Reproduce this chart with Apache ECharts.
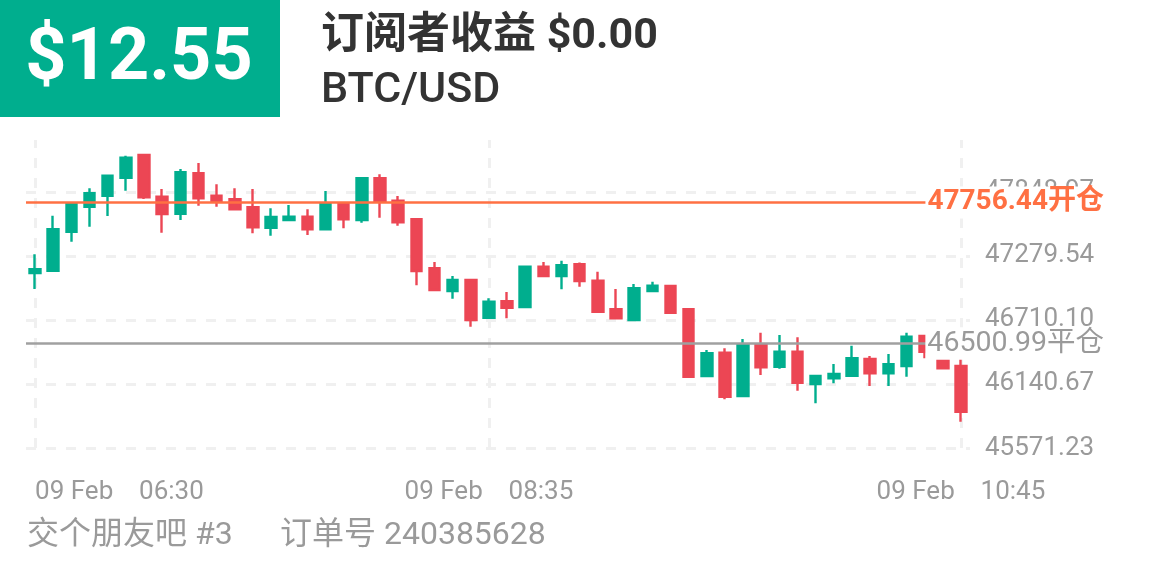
<!DOCTYPE html>
<html>
<head>
<meta charset="utf-8">
<script src="https://cdn.jsdelivr.net/npm/echarts@6/dist/echarts.min.js"></script>
<style>
html,body{margin:0;padding:0;background:#fff;}
#chart{width:1161px;height:580px;}
</style>
</head>
<body>
<div id="chart"></div>
<script>
// ---- data ----
const times = ['06:30','06:35','06:40','06:45','06:50','06:55','07:00','07:05','07:10','07:15',
  '07:20','07:25','07:30','07:35','07:40','07:45','07:50','07:55','08:00','08:05',
  '08:10','08:15','08:20','08:25','08:30','08:35','08:40','08:45','08:50','08:55',
  '09:00','09:05','09:10','09:15','09:20','09:25','09:30','09:35','09:40','09:45',
  '09:50','09:55','10:00','10:05','10:10','10:15','10:20','10:25','10:30','10:35',
  '10:40','10:45'];
const opens  = [47128.3,47148.8,47495.8,47718.2,47816.1,47976.2,48178.2,47807.2,47655.9,48015.3,
  47816.1,47784.0,47712.8,47531.3,47599.8,47629.2,47517.1,47748.4,47599.8,47970.9,
  47771.6,47606.0,47170.1,46968.1,47066.0,46730.6,46876.5,46825.8,47184.3,47101.6,
  47205.7,47060.0,46805.3,46710.1,46968.1,47012.6,46805.3,46211.8,46419.1,46033.8,
  46487.6,46294.6,46428.0,46140.7,46191.2,46214.5,46363.1,46235.8,46300.8,46567.7,
  46389.8,46300.8];
const closes = [47161.0,47517.1,47739.5,47837.4,47994.0,48154.1,47801.8,47653.2,48024.2,47792.9,
  47762.7,47695.0,47534.9,47626.5,47629.2,47517.1,47748.4,47606.1,47970.9,47762.7,
  47579.4,47146.1,46977.0,47066.0,46710.1,46873.0,46819.6,47184.3,47101.6,47196.8,
  47057.1,46784.0,46725.0,46992.2,47015.3,46775.1,46205.6,46413.8,46027.6,46487.6,
  46289.2,46428.0,46152.3,46211.8,46229.7,46369.3,46235.8,46315.9,46561.5,46428.0,
  46280.3,45894.3];
const lows   = [46985.9,47140.0,47406.8,47540.2,47635.4,47860.5,47786.7,47486.8,47599.8,47727.0,
  47718.2,47690.0,47481.3,47460.0,47595.0,47466.4,47512.0,47526.0,47575.8,47620.3,
  47549.1,47018.8,46968.1,46899.6,46650.5,46725.0,46725.0,46820.0,47098.0,46983.0,
  47006.4,46780.0,46720.0,46705.0,46965.0,46763.5,46200.0,46208.0,46004.5,46030.0,
  46220.8,46276.8,46081.0,45968.9,46146.9,46210.0,46122.9,46122.9,46205.6,46369.3,
  46278.0,45805.0];
const highs  = [47294.7,47638.1,47748.4,47881.9,48000.0,48171.9,48184.4,47875.7,48053.6,48107.0,
  47917.5,47881.9,47875.7,47704.0,47733.3,47695.0,47857.9,47752.0,47975.0,48006.5,
  47813.4,47610.0,47226.2,47101.6,47070.0,46903.2,46959.2,47190.0,47226.2,47237.7,
  47220.9,47139.8,46985.9,47030.5,47050.9,47016.0,46814.2,46443.2,46458.3,46541.0,
  46597.0,46576.6,46556.0,46215.0,46318.6,46481.4,46389.8,46407.6,46597.0,46571.0,
  46392.0,46378.2];
const yTicks = [45571.23, 46140.67, 46710.10, 47279.54, 47848.97];
const yMin = 45571.23;
const yMax = 48311.6;
const xLabelTimes = ['06:30', '08:35', '10:45'];
const datePrefix = '09 Feb    ';
const openPrice = 47756.44;
const closePrice = 46500.99;
const profitText = '$12.55';
const titleText = '订阅者收益 $0.00';
const symbolText = 'BTC/USD';
const footerLeft = '交个朋友吧 #3';
const footerRight = '订单号 240385628';

// ---- chart ----
const UP = '#00ae8e', DOWN = '#ec4654', ORANGE = '#ff7043', GRAY = '#a0a0a0', LABEL = '#9a9a9a';
const FONT = 'Roboto, "Noto Sans CJK SC", sans-serif';
const candleData = times.map((t, i) => [opens[i], closes[i], lows[i], highs[i]]);
const labelIdx = xLabelTimes.map(t => times.indexOf(t));

const chart = echarts.init(document.getElementById('chart'), null, {renderer: 'canvas'});
chart.setOption({
  animation: false,
  backgroundColor: '#fff',
  grid: {left: 26, right: 191, top: 140, bottom: 132},
  xAxis: {
    type: 'category',
    data: times,
    boundaryGap: true,
    axisLine: {show: false},
    axisTick: {show: false},
    splitLine: {show: false},
    axisLabel: {
      interval: (idx) => labelIdx.indexOf(idx) >= 0,
      formatter: (v) => datePrefix + v,
      color: LABEL,
      fontSize: 26,
      fontFamily: FONT,
      margin: 31,
      alignMinLabel: 'left'
    }
  },
  yAxis: {
    type: 'value',
    position: 'right',
    min: yMin,
    max: yMax,
    axisLine: {show: false},
    axisTick: {show: false, customValues: yTicks},
    axisLabel: {
      customValues: yTicks,
      formatter: (v) => v.toFixed(2),
      color: LABEL,
      fontSize: 26,
      fontFamily: FONT,
      margin: 15
    },
    splitLine: {show: true, lineStyle: {color: '#f0f0f0', width: 3, type: [10, 10]}}
  },
  series: [
    {
      type: 'line',
      data: [],
      z: 1,
      markLine: {
        silent: true,
        z: 1,
        symbol: ['none', 'none'],
        label: {show: false},
        lineStyle: {color: '#f0f0f0', width: 3, type: [10, 10]},
        data: xLabelTimes.map(t => ({xAxis: t}))
      }
    },
    {
      type: 'candlestick',
      data: candleData,
      barWidth: 11,
      z: 2,
      itemStyle: {
        color: UP, color0: DOWN, borderColor: UP, borderColor0: DOWN, borderWidth: 2.4
      },
      markLine: {
        silent: true,
        z: 5,
        symbol: ['none', 'none'],
        label: {
          position: 'end',
          distance: 0,
          align: 'right',
          offset: [134, 0],
          fontSize: 28,
          fontFamily: FONT,
          backgroundColor: '#fff',
          padding: [2, 0, 2, 2],
          formatter: (p) => p.value.toFixed(2) + p.name
        },
        data: [
          {name: '开仓', yAxis: openPrice,
           lineStyle: {color: ORANGE, width: 2.5, type: 'solid'},
           label: {color: ORANGE, fontWeight: 'bold'}},
          {name: '平仓', yAxis: closePrice,
           lineStyle: {color: GRAY, width: 2.5, type: 'solid'},
           label: {color: LABEL, fontWeight: 'normal', fontSize: 28.5}}
        ]
      }
    }
  ],
  graphic: [
    {type: 'rect', shape: {x: 0, y: 0, width: 280, height: 117}, style: {fill: UP}, z: 10},
    {type: 'text', z: 11, style: {text: profitText, x: 139, y: 61, align: 'center', verticalAlign: 'middle',
      fill: '#fff', fontSize: 72, fontWeight: 'bold', fontFamily: FONT}},
    {type: 'text', z: 11, style: {text: titleText, x: 321, y: 37, align: 'left', verticalAlign: 'middle',
      fill: '#333', fontSize: 43, fontWeight: 'bold', fontFamily: FONT}},
    {type: 'text', z: 11, style: {text: symbolText, x: 321, y: 91, align: 'left', verticalAlign: 'middle',
      fill: '#333', fontSize: 43, fontWeight: 500, fontFamily: FONT}},
    {type: 'text', z: 11, style: {text: footerLeft, x: 27, y: 536, align: 'left', verticalAlign: 'middle',
      fill: LABEL, fontSize: 32, fontFamily: FONT}},
    {type: 'text', z: 11, style: {text: footerRight, x: 280, y: 536, align: 'left', verticalAlign: 'middle',
      fill: LABEL, fontSize: 32, fontFamily: FONT}}
  ]
});
</script>
</body>
</html>
